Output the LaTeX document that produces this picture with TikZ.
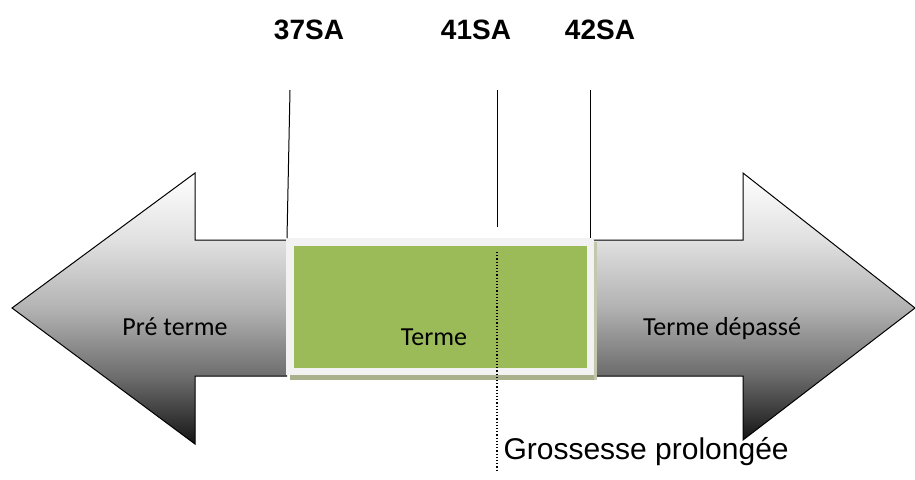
\documentclass[tikz,border=0pt]{standalone}
\usepackage{fontspec}
\setmainfont{Carlito}
\newfontfamily\arialfont{Liberation Sans}
\usetikzlibrary{positioning}

\definecolor{termegreen}{RGB}{155,187,89}
\definecolor{framegray}{RGB}{242,242,242}
\definecolor{shadowolive}{RGB}{168,176,140}

\pgfdeclareverticalshading{arrowshade}{100bp}{%
  color(0bp)=(black!92); color(25bp)=(black!92); color(37.5bp)=(black!57);
  color(50bp)=(black!30); color(62.5bp)=(black!12); color(75bp)=(white);
  color(100bp)=(white)}

\begin{document}
\begin{tikzpicture}[
  x=1pt,
  y=-1pt,
  big arrow/.style={
    draw=black,
    line width=1pt,
    shading=arrowshade
  },
  frame box/.style={
    fill=framegray,
    minimum width=308,
    minimum height=137,
    inner sep=0
  },
  green box/.style={
    fill=termegreen,
    minimum width=293,
    minimum height=122,
    inner sep=0
  },
  week label/.style={
    font=\arialfont\bfseries\fontsize{28}{32}\selectfont
  },
  phase label/.style={
    font=\fontsize{26}{30}\selectfont
  },
  tick line/.style={
    line width=1pt
  },
]
\useasboundingbox (0,0) rectangle (915,479);

% arrows
\draw[big arrow] (287,240) -- (195,240) -- (195,173) -- (12,308)
  -- (195,444) -- (195,376) -- (287,376);
\draw[big arrow] (592,240) -- (743,240) -- (743,173) -- (915,308)
  -- (743,440) -- (743,376) -- (592,376);

% terme box
\fill[shadowolive] (290,375) rectangle (597,380);
\fill[shadowolive!70] (594,242) rectangle (597,380);
\node[frame box] (cadre) at (440,306.5) {};
\node[green box] (terme) at (cadre) {};

% labels
\node[phase label] (pre) at (175,327) {Pré terme};
\node[phase label] (termelbl) at (434,337) {Terme};
\node[phase label] (depasse) at (722,329) {Terme dépassé};
\node[week label] (s37) at (309,30) {37SA};
\node[week label] (s41) at (476,30) {41SA};
\node[week label] (s42) at (600,30) {42SA};
\node[font=\arialfont\fontsize{30}{34}\selectfont, anchor=west] (prolong) at (500,452) {Grossesse prolongée};

% ticks
\coordinate (t37) at (290,90);
\coordinate (t41) at (497,90);
\coordinate (t42) at (590,90);
\coordinate (b37) at (287,238);
\coordinate (b41) at (497,227);
\coordinate (b42) at (590,238);
\coordinate (d41) at (497,252);
\coordinate (e41) at (497,470);
\draw[tick line] (t37) -- (b37);
\draw[tick line] (t41) -- (b41);
\draw[tick line] (t42) -- (b42);
\draw[dotted, line width=1.2pt] (d41) -- (e41);
\end{tikzpicture}
\end{document}
